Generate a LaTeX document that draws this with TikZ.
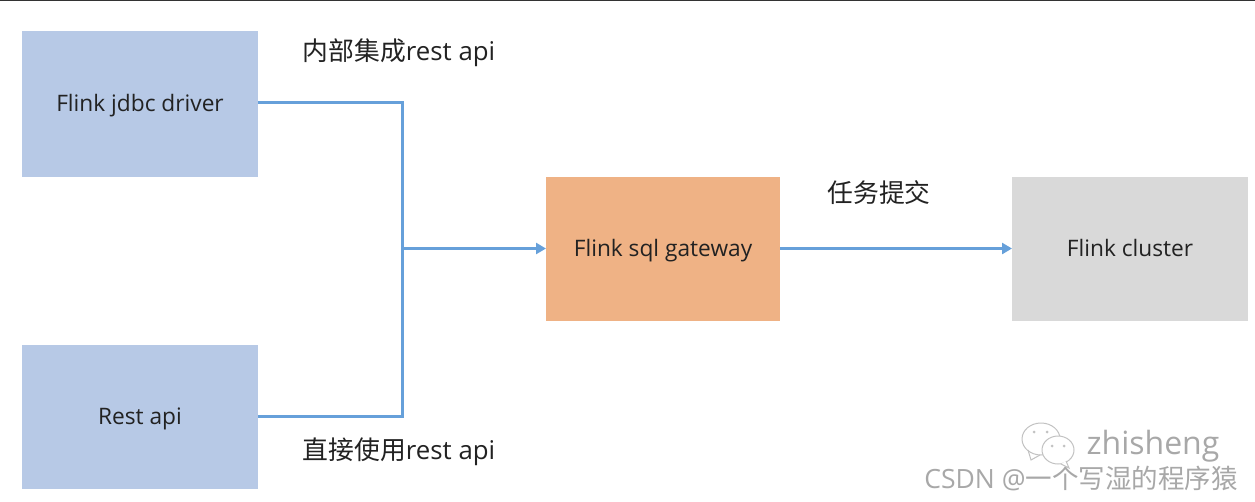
\documentclass[tikz,border=0pt]{standalone}
\usepackage{fontspec}
\setmainfont{Open Sans}
\newfontfamily\cjk{Noto Sans CJK SC}
\usetikzlibrary{arrows.meta}
\definecolor{bluebox}{HTML}{B7C9E6}
\definecolor{orangebox}{HTML}{EFB285}
\definecolor{greybox}{HTML}{D9D9D9}
\definecolor{linkblue}{HTML}{66A0DA}
\definecolor{txt}{HTML}{222222}
\definecolor{wm}{HTML}{A8A8A8}
\tikzset{
  x=1pt,y=-1pt,
  box/.style={anchor=center,inner sep=0pt,outer sep=0pt,text=txt,text height=20pt,text depth=5pt,font=\fontsize{22.7}{26}\selectfont},
  lab/.style={anchor=center,inner sep=0pt,text=txt,font=\fontsize{25.8}{30}\selectfont},
  conn/.style={draw=linkblue,line width=3pt},
  arr/.style={conn,-{Triangle[length=10pt,width=11pt]}},
  wmk/.style={anchor=center,inner sep=0pt,text=wm},
}
\begin{document}
\begin{tikzpicture}
\useasboundingbox (0,0) rectangle (1255,501);
\fill[white] (0,0) rectangle (1255,501);
\fill[black!80] (0,0) rectangle (1255,1);
\node[box,fill=bluebox,minimum width=236pt,minimum height=146pt] (jdbc) at (140,103.5) {Flink jdbc driver};
\node[box,fill=bluebox,minimum width=236pt,minimum height=144pt] (rest) at (140,416.5) {Rest api};
\node[box,fill=orangebox,minimum width=234pt,minimum height=144pt] (gw) at (663,248.5) {Flink sql gateway};
\node[box,fill=greybox,minimum width=236pt,minimum height=144pt] (cluster) at (1130,248.5) {Flink cluster};
\coordinate (junction) at (402,248.5);
\draw[conn] (jdbc.east |- 0,102.5) -| (junction);
\draw[conn] (rest.east) -| (junction);
\draw[arr] (junction) -- (gw.west);
\draw[arr] (gw.east) -- (cluster.west);
\node[lab] (l1) at (399,53) {{\cjk 内部集成}rest api};
\node[lab] (l2) at (399,452) {{\cjk 直接使用}rest api};
\node[lab] (l3) at (879,193) {\cjk 任务提交};
\node[wmk,font=\fontsize{32}{34}\selectfont] (wz) at (1153,446) {zhisheng};
\node[wmk,font=\fontsize{26.5}{30}\selectfont] (wc) at (1081,478) {CSDN @{\cjk 一个写湿的程序猿}};
\begin{scope}[draw=wm!70,line width=1pt]
\draw (1041,439) ellipse [x radius=19pt,y radius=16pt];
\draw (1028,450) -- (1031,460) -- (1040,455);
\draw[fill=white] (1058,450) ellipse [x radius=16pt,y radius=14pt];
\draw[fill=white] (1066,461) -- (1069,468) -- (1061,464);
\end{scope}
\fill[wm!70] (1034,432) circle (1.5pt) (1047,432) circle (1.5pt) (1052,446) circle (1.5pt) (1064,446) circle (1.5pt);
\end{tikzpicture}
\end{document}
